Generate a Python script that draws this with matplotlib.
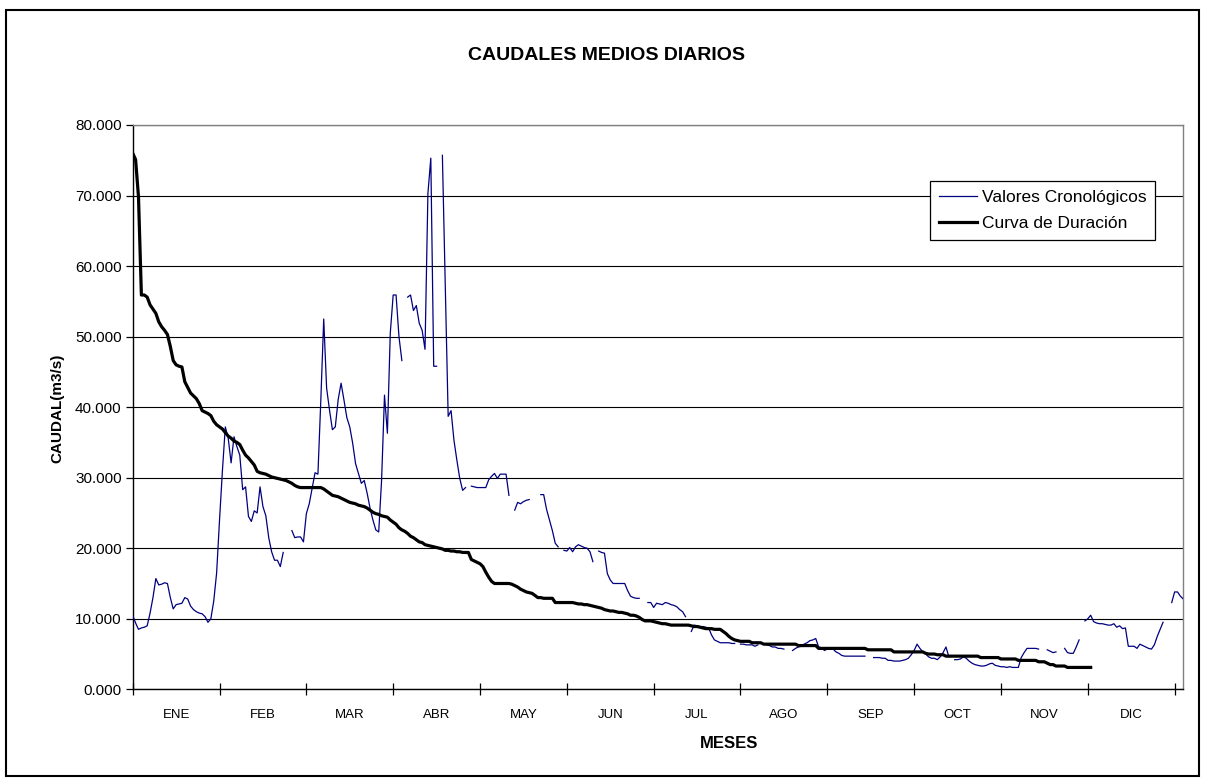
import numpy as np
import matplotlib
matplotlib.use("Agg")
import matplotlib.pyplot as plt
from matplotlib.patches import Rectangle

plt.rcParams['font.family'] = ['Liberation Sans', 'DejaVu Sans']

nan = np.nan
months = ["ENE", "FEB", "MAR", "ABR", "MAY", "JUN", "JUL", "AGO", "SEP", "OCT", "NOV", "DIC"]
y_ticks = [0, 10, 20, 30, 40, 50, 60, 70, 80]

# Valores cronologicos (caudal medio diario, m3/s), nan = sin dato
cronologicos = [
    10.5, 9.4, 8.5, 8.7, 8.8, 9.0, 10.8, 13.0, 15.7, 14.8,
    14.9, 15.1, 15.0, 13.0, 11.4, 12.0, 12.1, 12.2, 13.0, 12.8,
    11.8, 11.3, 11.0, 10.8, 10.7, 10.3, 9.5, 10.0, 12.5, 16.5,
    24.0, 31.0, 37.2, 35.6, 32.1, 35.8, 34.4, 33.2, 28.3, 28.7,
    24.5, 23.8, 25.3, 25.0, 28.7, 25.9, 24.6, 21.5, 19.5, 18.3,
    18.3, 17.4, 19.4, nan, nan, 22.5, 21.5, 21.6, 21.6, 20.9,
    24.9, 26.3, 28.5, 30.7, 30.5, 41.0, 52.5, 42.7, 39.6, 36.8,
    37.2, 41.1, 43.4, 41.0, 38.5, 37.2, 34.9, 32.0, 30.6, 29.2,
    29.6, 27.8, 25.7, 24.0, 22.6, 22.3, 29.7, 41.7, 36.3, 50.5,
    55.9, 55.9, 50.0, 46.6, nan, 55.6, 55.9, 53.7, 54.4, 51.9,
    50.9, 48.2, 70.3, 75.3, 45.8, 45.8, nan, 75.7, 57.0, 38.7,
    39.5, 35.3, 32.5, 29.9, 28.2, 28.6, nan, 28.8, 28.7, 28.6,
    28.6, 28.6, 28.6, 29.7, 30.2, 30.6, 29.9, 30.5, 30.5, 30.5,
    27.5, nan, 25.4, 26.5, 26.3, 26.6, 26.8, 26.9, nan, nan,
    nan, 27.6, 27.6, 25.5, 24.0, 22.5, 20.7, 20.2, nan, 19.7,
    19.6, 20.1, 19.5, 20.2, 20.5, 20.3, 20.1, 20.0, 19.5, 18.1,
    nan, 19.6, 19.4, 19.3, 16.4, 15.5, 15.0, 15.0, 15.0, 15.0,
    15.0, 14.0, 13.2, 13.0, 12.9, 12.9, nan, nan, 12.3, 12.3,
    11.6, 12.2, 12.1, 12.0, 12.3, 12.2, 12.0, 11.9, 11.7, 11.3,
    11.0, 10.3, nan, 8.2, 9.1, 9.0, 8.9, 8.9, 8.8, 8.7,
    7.7, 7.0, 6.8, 6.6, 6.6, 6.6, 6.6, 6.5, 6.5, nan,
    6.4, 6.4, 6.3, 6.3, 6.3, 6.1, 6.3, nan, nan, 6.3,
    6.2, 6.0, 6.0, 5.8, 5.8, 5.7, nan, nan, 5.5, 5.8,
    6.0, 6.1, 6.4, 6.6, 6.9, 7.0, 7.2, 6.0, 5.9, 5.5,
    5.7, 5.7, 5.7, 5.3, 5.1, 4.8, 4.7, 4.7, 4.7, 4.7,
    4.7, 4.7, 4.7, 4.7, nan, nan, 4.5, 4.5, 4.5, 4.4,
    4.4, 4.1, 4.1, 4.0, 4.0, 4.0, 4.1, 4.2, 4.4, 4.9,
    5.5, 6.4, 5.8, 5.3, 5.0, 4.6, 4.4, 4.4, 4.2, 4.6,
    5.2, 6.0, 4.6, nan, 4.2, 4.2, 4.3, 4.6, 4.4, 4.0,
    3.7, 3.5, 3.4, 3.3, 3.3, 3.4, 3.6, 3.7, 3.4, 3.3,
    3.2, 3.2, 3.1, 3.2, 3.1, 3.1, 3.1, 4.5, 5.2, 5.8,
    5.8, 5.8, 5.8, 5.7, nan, nan, 5.6, 5.4, 5.2, 5.3,
    nan, nan, 5.8, 5.2, 5.1, 5.1, 6.0, 7.0, nan, 9.7,
    10.0, 10.5, 9.6, 9.4, 9.3, 9.3, 9.2, 9.1, 9.1, 9.3,
    8.8, 9.0, 8.6, 8.7, 6.1, 6.1, 6.1, 5.8, 6.4, 6.2,
    6.0, 5.8, 5.7, 6.3, 7.5, 8.5, 9.5, nan, nan, 12.3,
    13.8, 13.8, 13.2, 12.8,
]

# Curva de duracion (m3/s)
duracion = [
    76.0, 75.1, 69.8, 55.9, 55.9, 55.6, 54.5, 53.9, 53.3, 52.1,
    51.4, 50.9, 50.3, 48.6, 46.6, 46.0, 45.8, 45.7, 43.6, 42.8,
    42.0, 41.6, 41.2, 40.5, 39.5, 39.3, 39.1, 38.8, 38.0, 37.5,
    37.2, 36.9, 36.4, 35.9, 35.6, 35.2, 35.0, 34.7, 33.9, 33.2,
    32.8, 32.3, 31.8, 30.9, 30.7, 30.6, 30.5, 30.3, 30.1, 30.0,
    29.9, 29.8, 29.7, 29.6, 29.4, 29.2, 28.9, 28.7, 28.6, 28.6,
    28.6, 28.6, 28.6, 28.6, 28.6, 28.6, 28.4, 28.1, 27.8, 27.5,
    27.4, 27.3, 27.1, 26.9, 26.7, 26.5, 26.4, 26.3, 26.1, 26.0,
    25.9, 25.7, 25.4, 25.1, 24.9, 24.8, 24.6, 24.5, 24.4, 24.0,
    23.7, 23.4, 22.9, 22.6, 22.4, 22.1, 21.7, 21.5, 21.2, 20.9,
    20.8, 20.5, 20.4, 20.3, 20.2, 20.1, 20.0, 19.9, 19.7, 19.7,
    19.6, 19.6, 19.5, 19.5, 19.4, 19.4, 19.4, 18.4, 18.2, 18.0,
    17.8, 17.4, 16.6, 15.9, 15.3, 15.0, 15.0, 15.0, 15.0, 15.0,
    15.0, 14.9, 14.7, 14.5, 14.2, 14.0, 13.8, 13.7, 13.6, 13.3,
    13.0, 13.0, 12.9, 12.9, 12.9, 12.9, 12.3, 12.3, 12.3, 12.3,
    12.3, 12.3, 12.3, 12.2, 12.1, 12.1, 12.0, 12.0, 11.9, 11.8,
    11.7, 11.6, 11.5, 11.3, 11.2, 11.1, 11.1, 11.0, 10.9, 10.9,
    10.8, 10.7, 10.5, 10.5, 10.4, 10.2, 9.9, 9.7, 9.7, 9.7,
    9.6, 9.5, 9.4, 9.3, 9.3, 9.2, 9.1, 9.1, 9.1, 9.1,
    9.1, 9.1, 9.1, 9.0, 8.9, 8.9, 8.8, 8.7, 8.6, 8.6,
    8.6, 8.5, 8.5, 8.5, 8.2, 7.9, 7.5, 7.2, 7.0, 6.9,
    6.8, 6.8, 6.8, 6.8, 6.6, 6.6, 6.6, 6.6, 6.4, 6.4,
    6.4, 6.4, 6.4, 6.4, 6.4, 6.4, 6.4, 6.4, 6.4, 6.4,
    6.2, 6.2, 6.2, 6.2, 6.2, 6.2, 6.2, 5.8, 5.8, 5.8,
    5.8, 5.8, 5.8, 5.8, 5.8, 5.8, 5.8, 5.8, 5.8, 5.8,
    5.8, 5.8, 5.8, 5.8, 5.6, 5.6, 5.6, 5.6, 5.6, 5.6,
    5.6, 5.6, 5.6, 5.3, 5.3, 5.3, 5.3, 5.3, 5.3, 5.3,
    5.3, 5.3, 5.3, 5.3, 5.1, 5.0, 5.0, 5.0, 4.9, 4.9,
    4.9, 4.7, 4.7, 4.7, 4.7, 4.7, 4.7, 4.7, 4.7, 4.7,
    4.7, 4.7, 4.7, 4.5, 4.5, 4.5, 4.5, 4.5, 4.5, 4.5,
    4.3, 4.3, 4.3, 4.3, 4.3, 4.3, 4.1, 4.1, 4.1, 4.1,
    4.1, 4.1, 4.1, 3.9, 3.9, 3.9, 3.7, 3.5, 3.5, 3.3,
    3.3, 3.3, 3.3, 3.1, 3.1, 3.1, 3.1, 3.1, 3.1, 3.1,
    3.1, 3.1,
]

W, H = 1206, 783
fig = plt.figure(figsize=(W / 100, H / 100), dpi=100)
fig.patches.append(Rectangle((6 / W, 1 - 776 / H), (1199 - 6) / W, (776 - 10) / H,
                             transform=fig.transFigure, fill=False,
                             edgecolor='black', linewidth=1.5, zorder=0))

L, R, T, B = 132.7, 1183.3, 125.0, 689.3
ax = fig.add_axes([L / W, 1 - B / H, (R - L) / W, (B - T) / H])

n_cat = 364
x_c = np.arange(len(cronologicos))
x_d = np.arange(len(duracion))
ax.plot(x_c, np.array(cronologicos, dtype=float), color='#000080', lw=0.9,
        label='Valores Cronológicos', zorder=3)
ax.plot(x_d, duracion, color='black', lw=2.3, label='Curva de Duración', zorder=4)

ax.set_xlim(0, n_cat - 1)
ax.set_ylim(0, 80)
ax.set_yticks(y_ticks)
ax.set_yticklabels([f"{v:.3f}" for v in y_ticks], fontsize=11)
ax.yaxis.grid(True, color='black', lw=0.8)
ax.set_axisbelow(True)

ax.set_xticks([30 * k for k in range(13)])
ax.set_xticklabels([])
ax.tick_params(axis='x', which='major', direction='inout', length=9, width=0.9)
ax.set_xticks([15 + 30 * k for k in range(12)], minor=True)
ax.set_xticklabels(months, minor=True, fontsize=9.5)
ax.tick_params(axis='x', which='minor', length=0, pad=14)
ax.tick_params(axis='y', direction='out', length=5, width=0.9, pad=3)

for s in ['top', 'right']:
    ax.spines[s].set_color('#808080')
    ax.spines[s].set_linewidth(1.0)
for s in ['left', 'bottom']:
    ax.spines[s].set_color('black')
    ax.spines[s].set_linewidth(1.0)

fig.text(607 / W, 1 - 56 / H, 'CAUDALES MEDIOS DIARIOS', ha='center', va='center',
         fontsize=14, fontweight='bold')
fig.text(729 / W, 1 - 743 / H, 'MESES', ha='center', va='center',
         fontsize=12, fontweight='bold')
fig.text(57 / W, 1 - 408 / H, 'CAUDAL(m3/s)', ha='center', va='center',
         rotation=90, fontsize=11, fontweight='bold')

leg = ax.legend(loc='upper left', bbox_to_anchor=((930 - L) / (R - L), (B - 181) / (B - T)),
                fontsize=12.5, frameon=True, fancybox=False, edgecolor='black',
                framealpha=1, borderpad=0.5, handlelength=2.2, handletextpad=0.3,
                labelspacing=0.65, borderaxespad=0)
leg.get_frame().set_linewidth(0.9)

fig.savefig('out.png', dpi=100)
